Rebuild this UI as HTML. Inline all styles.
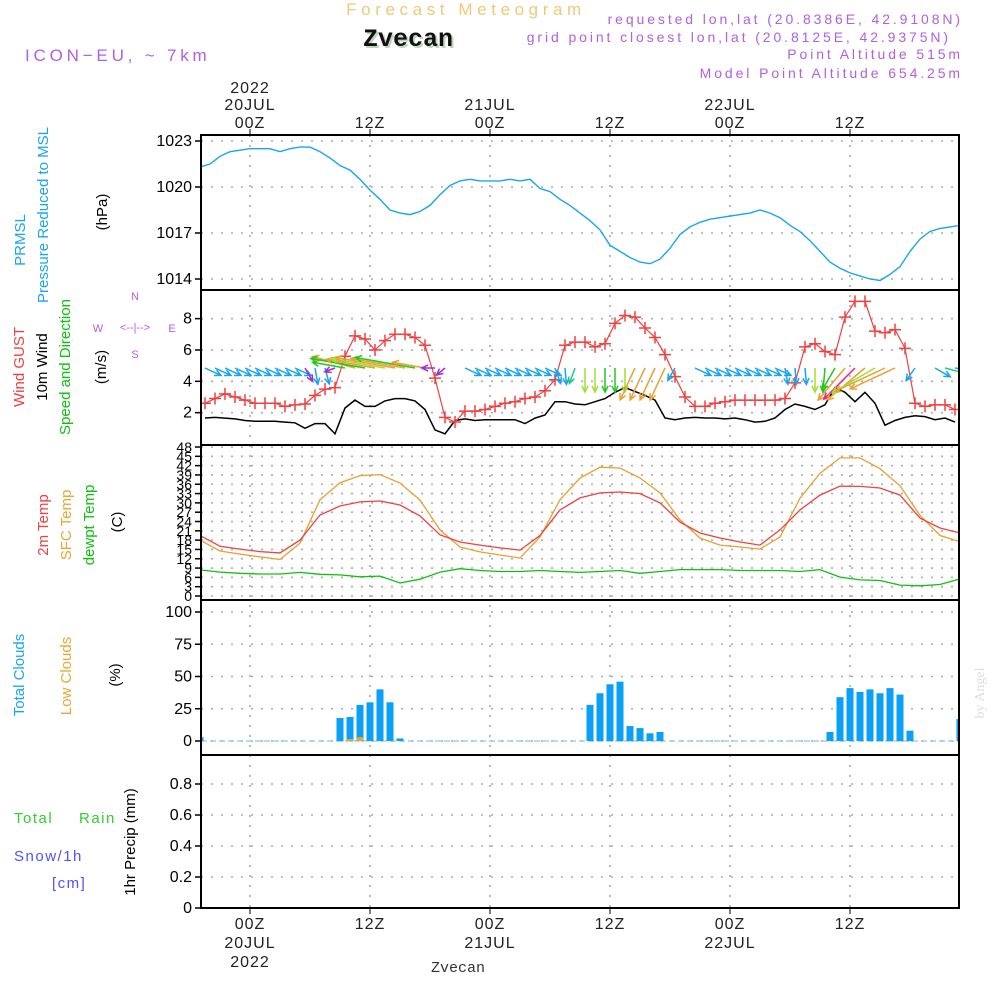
<!DOCTYPE html>
<html><head><meta charset="utf-8">
<style>
body{margin:0;background:#fff;}
svg{display:block;font-family:"Liberation Sans",sans-serif;}
</style></head>
<body>
<svg id="chart" width="1000" height="1000" viewBox="0 0 1000 1000">
<rect width="1000" height="1000" fill="#fff"/>
<text x="466" y="15" font-size="17" fill="#f0c878" letter-spacing="4.6" text-anchor="middle">Forecast Meteogram</text>
<text x="410" y="48" font-size="25" font-weight="bold" font-family="Liberation Mono,monospace" fill="#c0d4c0" text-anchor="middle">Zvecan</text>
<text x="408" y="46" font-size="25" font-weight="bold" font-family="Liberation Mono,monospace" fill="#111" text-anchor="middle">Zvecan</text>
<text x="25" y="61" font-size="17" fill="#b060e0" letter-spacing="3.8">ICON−EU, ~ 7km</text>
<g font-size="14" fill="#b060e0" text-anchor="end" letter-spacing="2.9">
<text x="963" y="24">requested lon,lat (20.8386E, 42.9108N)</text>
<text x="951" y="42">grid point closest lon,lat (20.8125E, 42.9375N)</text>
<text x="963" y="59">Point Altitude 515m</text>
<text x="963" y="78">Model Point Altitude 654.25m</text>
</g>
<g id="leftlabels" font-size="15">
<text transform="translate(25,240) rotate(-90)" text-anchor="middle" fill="#1aa4ef">PRMSL</text>
<text transform="translate(48,215) rotate(-90)" text-anchor="middle" fill="#1aa4ef">Pressure Reduced to MSL</text>
<text transform="translate(107,212) rotate(-90)" text-anchor="middle" fill="#000">(hPa)</text>
<text transform="translate(24,367) rotate(-90)" text-anchor="middle" fill="#f04040">Wind GUST</text>
<text transform="translate(47,367) rotate(-90)" text-anchor="middle" fill="#000">10m Wind</text>
<text transform="translate(70,367) rotate(-90)" text-anchor="middle" fill="#10c010">Speed and Direction</text>
<text transform="translate(106,367) rotate(-90)" text-anchor="middle" fill="#000">(m/s)</text>
<g fill="#b060e0" font-size="11" text-anchor="middle"><text x="98" y="332">W</text><text x="172" y="332">E</text><text x="135" y="300">N</text><text x="135" y="358">S</text><text x="135" y="331">&lt;--|--&gt;</text></g>
<text transform="translate(48,525) rotate(-90)" text-anchor="middle" fill="#f04040">2m Temp</text>
<text transform="translate(71,525) rotate(-90)" text-anchor="middle" fill="#e8a830">SFC Temp</text>
<text transform="translate(94,525) rotate(-90)" text-anchor="middle" fill="#10c010">dewpt Temp</text>
<text transform="translate(122,522) rotate(-90)" text-anchor="middle" fill="#000">(C)</text>
<text transform="translate(24,675) rotate(-90)" text-anchor="middle" fill="#1aa4ef">Total Clouds</text>
<text transform="translate(71,676) rotate(-90)" text-anchor="middle" fill="#e8a830">Low Clouds</text>
<text transform="translate(120,675) rotate(-90)" text-anchor="middle" fill="#000">(%)</text>
<text x="14" y="823" fill="#30d030" letter-spacing="1.5">Total</text><text x="79" y="823" fill="#30d030" letter-spacing="1.5">Rain</text>
<text x="14" y="861" fill="#5050ff" letter-spacing="1.5">Snow/1h</text>
<text x="52" y="888" fill="#5050ff" letter-spacing="1.5">[cm]</text>
<text transform="translate(135,842) rotate(-90)" text-anchor="middle" fill="#000">1hr Precip (mm)</text>
</g>
<text transform="translate(984,693) rotate(-90)" text-anchor="middle" font-size="14" font-family="Liberation Serif,serif" fill="#ddd">by Angel</text>
<text x="458" y="972" text-anchor="middle" font-size="15" font-family="Liberation Mono,monospace" fill="#333">Zvecan</text>
</svg>
<script>
// ---- data ----
const timeTicks=[0,12,24,36,48,60];
const tickLabelsZ=["00Z","12Z","00Z","12Z","00Z","12Z"];
const tickLabelsDay=["20JUL","","21JUL","","22JUL",""];
const presTimes0=-5;
const pressure=[1021.3,1021.5,1022,1022.3,1022.4,1022.5,1022.5,1022.5,1022.3,1022.5,1022.6,1022.6,1022.3,1021.9,1021.4,1021.1,1020.5,1019.8,1019.2,1018.5,1018.3,1018.2,1018.4,1018.8,1019.5,1020.1,1020.4,1020.5,1020.4,1020.4,1020.4,1020.5,1020.4,1020.5,1019.9,1019.7,1019.2,1018.8,1018.3,1017.8,1017.2,1016.2,1015.8,1015.4,1015.1,1015,1015.3,1016,1016.9,1017.4,1017.7,1017.9,1018,1018.1,1018.2,1018.3,1018.5,1018.3,1018,1017.5,1017.1,1016.5,1015.8,1015.1,1014.7,1014.4,1014.2,1014,1013.9,1014.3,1014.8,1015.8,1016.6,1017.1,1017.3,1017.4,1017.5];
const pressureTicks=[1014,1017,1020,1023];
const windTime0=-4.5;
const windGust=[2.6,2.9,3.2,3.0,2.8,2.6,2.6,2.6,2.4,2.5,2.55,3.1,3.5,3.6,5.6,6.9,6.7,6.0,6.6,7.0,7.0,6.8,6.3,4.2,1.7,1.4,2.1,2.1,2.2,2.4,2.6,2.7,2.9,3.0,3.4,4.1,6.3,6.5,6.5,6.2,6.4,7.7,8.2,8.1,7.4,6.8,5.7,4.3,3.0,2.4,2.4,2.6,2.7,2.8,2.8,2.8,2.8,2.8,2.9,3.9,6.2,6.4,5.9,5.7,8.1,9.1,9.1,7.2,7.1,7.3,6.1,2.6,2.4,2.5,2.5,2.2];
const wind10m=[1.66,1.7,1.65,1.6,1.5,1.45,1.45,1.45,1.4,1.35,1.0,1.3,1.3,0.65,2.3,2.8,2.4,2.4,2.75,2.9,2.9,2.75,2.2,0.9,0.65,1.5,1.6,1.5,1.55,1.55,1.55,1.55,1.3,1.65,1.85,2.7,2.7,2.55,2.5,2.7,2.9,3.3,3.6,3.35,3.1,2.8,1.66,1.55,1.66,1.7,1.66,1.66,1.6,1.66,1.55,1.4,1.45,1.66,2.2,2.55,2.4,2.2,2.5,3.6,3.3,2.7,3.3,2.6,1.2,1.5,1.7,1.8,1.75,1.55,1.66,1.4];
const windTicks=[2,4,6,8];
const arrowDir=[25,25,25,25,25,25,25,25,25,25,60,80,75,160,190,195,190,190,190,190,190,190,190,180,140,null,25,25,25,25,25,25,25,25,25,70,85,110,90,90,90,90,90,115,115,115,115,120,null,25,25,25,25,25,25,25,25,25,80,85,85,90,95,120,130,135,140,150,155,155,null,125,null,30,15,10];
const arrowSpd=[1.6,1.6,1.6,1.6,1.6,1.6,1.6,1.6,1.6,1.6,1.4,1.5,1.5,1.0,3.0,4.0,5.0,4.5,5.0,5.5,5.0,5.5,3.0,1.2,1.0,0,1.6,1.6,1.6,1.6,1.6,1.6,1.6,1.6,1.6,1.5,1.5,1.5,2.2,2.2,2.2,2.2,2.2,3.2,3.2,3.2,3.2,1.3,0,1.6,1.6,1.6,1.6,1.6,1.6,1.6,1.6,1.6,1.5,1.5,1.5,2.2,2.2,2.3,3.8,4.0,4.5,4.5,5.0,4.5,0,1.4,0,1.6,2.0,2.5];
const arrowCls=["b","b","b","b","b","b","b","b","b","b","p","b","b","p","g","o","g","o","y","o","o","g","o","p","p","b","b","b","b","b","b","b","b","b","b","b","b","t","y","y","g","g","y","o","o","o","o","b","b","b","b","b","b","b","b","b","b","b","b","b","b","y","g","g","o","m","o","y","o","o","b","b","b","b","t","b"];
const tempTime0=-5, tempStep=2;
const temp2m=[19.5,16,15.1,14.3,13.9,18,26.1,29,30.3,30.6,29.3,25.8,19.7,17.4,16.4,15.5,14.8,19.5,27.7,31.6,33.2,33.5,33,30,23.8,20.3,18.7,17.4,16.4,21.3,27.7,32.5,35.4,35.3,34.8,32.5,25.1,21.9,20.3];
const tempSfc=[18,14.5,13.5,12.6,11.8,17,31,36.5,38.8,39.1,36.4,30.9,21.3,15.8,14.2,13.2,12.2,19,31,38,41.5,41.2,38,33.2,24.5,18.7,16.4,15.8,15.1,19,31.5,39.5,44.5,44.5,41,35.5,26,19.5,17.5];
const dewpt=[8.4,7.7,7.3,7.1,7.1,7.6,7,6.8,6.2,6.4,4.2,5.4,7.7,8.8,8.2,7.9,7.9,8.2,7.9,7.6,7.9,8.2,7.3,7.9,8.5,8.5,8.5,8.2,8.2,8.2,7.9,8.5,6.1,5.2,5,3.5,3.3,3.7,5.5];
const tempTicks=[0,3,6,9,12,15,18,21,24,27,30,33,36,39,42,45,48];
const cloudHours=[-5,9,10,11,12,13,14,15,34,35,36,37,38,39,40,41,58,59,60,61,62,63,64,65,66,71];
const totalClouds=[3,17.8,18.6,28,30,40,30,2,28,37,44,46,11.6,10,6,7,7,34,41,38,40,37,41,36,8,17];
const lowClouds=[0,0,1.5,3,0,0,0,0,0,0,0,0,0,0,0,0,0,0,0,0,0,0,0,0,0,0];
const cloudTicks=[0,25,50,75,100];
const precipTicks=[0,0.2,0.4,0.6,0.8];

// ---- scales ----
const X0=201,X1=959;
const xT=t=>250+10*t;
const panels={p:[135,290],w:[290,445],t:[445,600],c:[600,755],r:[755,908]};
const yP=v=>141+(1023-v)*46/3;
const yW=v=>444-v*15.67;
const yTe=v=>596-v*(149/48);
const yC=v=>741-v*1.29;
const yR=v=>908-v*155;
const svg=document.getElementById('chart');
const NS='http://www.w3.org/2000/svg';
function mk(tag,at,parent){const e=document.createElementNS(NS,tag);for(const k in at)e.setAttribute(k,at[k]);(parent||svg).appendChild(e);return e;}
const clip=mk('clipPath',{id:'plotclip'});mk('rect',{x:X0,y:135,width:X1-X0,height:773},clip);

// grid
const grid=mk('g',{stroke:'#aaa','stroke-width':1.6,'stroke-dasharray':'2 8',fill:'none'});


timeTicks.forEach(t=>{mk('line',{x1:xT(t),x2:xT(t),y1:135,y2:908},grid);});
function hgrid(ticks,f){ticks.forEach(v=>mk('line',{x1:X0,x2:X1,y1:f(v),y2:f(v)},grid));}
hgrid(pressureTicks,yP);hgrid(windTicks,yW);hgrid(tempTicks,yTe);hgrid(cloudTicks,yC);hgrid(precipTicks,yR);

// y-axis ticks and labels
function yaxis(ticks,f,name,fmt,fs){
 const g=mk('g',{'font-size':fs||16,'text-anchor':'end',fill:'#000'});
 
 
 ticks.forEach(v=>{mk('line',{x1:X0-6,x2:X0,y1:f(v),y2:f(v),stroke:'#000','stroke-width':1.5},g);
  const tx=mk('text',{x:X0-9,y:f(v)+5},g);tx.textContent=fmt?fmt(v):v;});
}
yaxis(pressureTicks,yP,'pressure-axis');
yaxis(windTicks,yW,'wind-axis');
yaxis(tempTicks,yTe,'temperature-axis',null,14);
yaxis(cloudTicks,yC,'cloud-axis');
yaxis(precipTicks,yR,'precip-axis',v=>v===0?'0':v.toFixed(1));

// x-axis labels
const xg=mk('g',{'font-size':16,'text-anchor':'middle',fill:'#222','letter-spacing':'1'});


timeTicks.forEach((t,i)=>{
 const x=xT(t);
 mk('line',{x1:x,x2:x,y1:129,y2:135,stroke:'#000'},xg);
 mk('line',{x1:x,x2:x,y1:908,y2:914,stroke:'#000'},xg);
 let a=mk('text',{x:x,y:128},xg);a.textContent=tickLabelsZ[i];
 a=mk('text',{x:x,y:929},xg);a.textContent=tickLabelsZ[i];
 if(tickLabelsDay[i]){a=mk('text',{x:x,y:110},xg);a.textContent=tickLabelsDay[i];
  a=mk('text',{x:x,y:948},xg);a.textContent=tickLabelsDay[i];}
});
let yr=mk('text',{x:xT(0),y:93},xg);yr.textContent='2022';
yr=mk('text',{x:xT(0),y:967},xg);yr.textContent='2022';

const plot=mk('g',{'clip-path':'url(#plotclip)'});
function line(vals,t0,step,f,color,name,w){
 const d=vals.map((v,i)=>(i?'L':'M')+xT(t0+i*step).toFixed(1)+','+f(v).toFixed(1)).join('');
 const p=mk('path',{d:d,fill:'none',stroke:color,'stroke-width':w||1.3},plot);
 
 
 return p;
}
line(pressure,presTimes0,1,yP,'#1aa4ef','pressure-line',1.4);
line(wind10m,windTime0,1,yW,'#000','wind-10m-line',1.5);
line(windGust,windTime0,1,yW,'#f04040','wind-gust-line',1.2);
const gm=mk('g',{stroke:'#f04040','stroke-width':1.5},plot);


windGust.forEach((v,i)=>{const x=xT(windTime0+i),y=yW(v);
 mk('path',{d:`M${x-6},${y}H${x+6}M${x},${y-6}V${y+6}`},gm);});
// arrows
const colMap={b:'#1aa4ef',p:'#9a30d8',g:'#20c820',o:'#e8a030',y:'#a0e030',t:'#20c890',m:'#f0208c'};
const ag=mk('g',{fill:'none','stroke-width':1.5},plot);


arrowDir.forEach((d,i)=>{ if(d===null||!arrowSpd[i])return;
 const x=xT(windTime0+i),y=yW(4.85);const L=arrowSpd[i]*11;const r=d*Math.PI/180;
 const x2=x+L*Math.cos(r),y2=y+L*Math.sin(r);
 const h=7,a1=r+Math.PI-0.45,a2=r+Math.PI+0.45;
 mk('path',{d:`M${x},${y}L${x2},${y2}M${x2+h*Math.cos(a1)},${y2+h*Math.sin(a1)}L${x2},${y2}L${x2+h*Math.cos(a2)},${y2+h*Math.sin(a2)}`,stroke:colMap[arrowCls[i]]},ag);
});
line(tempSfc,tempTime0,tempStep,yTe,'#e8a030','sfc-temp-line',1.3);
line(temp2m,tempTime0,tempStep,yTe,'#f04040','temp-2m-line',1.3);
line(dewpt,tempTime0,tempStep,yTe,'#10c010','dewpoint-line',1.3);
// clouds
const cg=mk('g',{},plot);


mk('line',{x1:X0,x2:X1,y1:yC(0),y2:yC(0),stroke:'#7ab8d8','stroke-width':1,'stroke-dasharray':'6 3'},cg);
cloudHours.forEach((t,i)=>{const x=xT(t);
 const b=mk('rect',{x:x-3.5,y:yC(totalClouds[i]),width:7,height:yC(0)-yC(totalClouds[i]),fill:'#0aa0f5'},cg);
 
 
 if(lowClouds[i]>0){const lb=mk('rect',{x:x-3,y:yC(lowClouds[i]),width:6,height:yC(0)-yC(lowClouds[i]),fill:'#e8a830'},cg);
  
  }
});
// frames
const fr=mk('g',{fill:'none',stroke:'#000','stroke-width':2});


Object.values(panels).forEach(p=>mk('rect',{x:X0,y:p[0],width:X1-X0,height:p[1]-p[0]},fr));
</script>
</body></html>
